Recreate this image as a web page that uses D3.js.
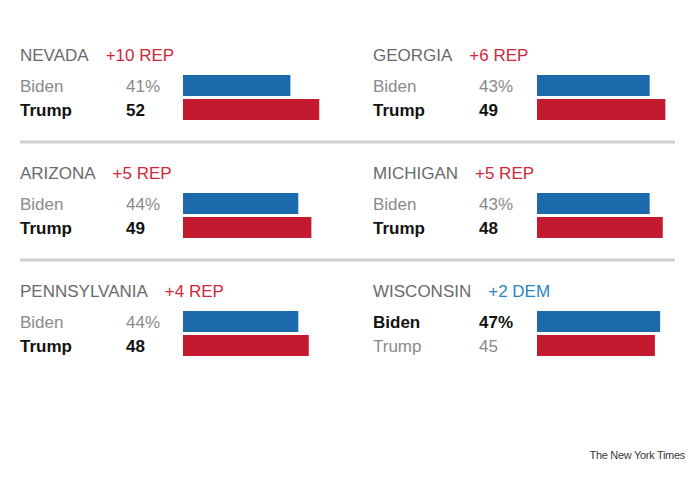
<!DOCTYPE html>
<html>
<head>
<meta charset="utf-8">
<script src="https://cdn.jsdelivr.net/npm/d3@7"></script>
<style>
  html, body { margin: 0; padding: 0; background: #ffffff; }
  svg { display: block; font-family: "Liberation Sans", Arial, sans-serif; }
</style>
</head>
<body>
<svg id="chart" width="700" height="490"></svg>
<script>
const states = ["NEVADA", "GEORGIA", "ARIZONA", "MICHIGAN", "PENNSYLVANIA", "WISCONSIN"];
const margins = ["+10 REP", "+6 REP", "+5 REP", "+5 REP", "+4 REP", "+2 DEM"];
const marginParty = ["REP", "REP", "REP", "REP", "REP", "DEM"];
const candidates = ["Biden", "Trump"];
const bidenValues = [41, 43, 44, 43, 44, 47];
const trumpValues = [52, 49, 49, 48, 48, 45];
const credit = "The New York Times";

const svg = d3.select("#chart");
const colors = { Biden: "#1a6aac", Trump: "#c31a30" };
const textColors = { REP: "#d0283a", DEM: "#2a87c2" };

const colX = d3.scalePoint().domain([0, 1]).range([20, 373]);
const rowY = d3.scalePoint().domain([0, 1, 2]).range([0, 236]);
const x = d3.scaleLinear().domain([0, 100]).range([0, 262]);
const y = d3.scaleBand().domain(candidates).range([75, 120]).paddingInner(0.125);

const numOffset = 106;
const barOffset = 163;

// dividers
[0, 1].forEach(r => {
  svg.append("line")
    .attr("x1", 20).attr("x2", 675)
    .attr("y1", rowY(r) + 142).attr("y2", rowY(r) + 142)
    .attr("stroke", "#cfcfcf").attr("stroke-width", 3);
});

states.forEach((st, i) => {
  const c = i % 2, r = Math.floor(i / 2);
  const g = svg.append("g").attr("transform", `translate(${colX(c)},${rowY(r)})`);
  const title = g.append("text")
    .attr("x", 0).attr("y", 61)
    .attr("font-size", 17).attr("fill", "#6a6a6a")
    .text(st);
  const w = title.node().getComputedTextLength();
  g.append("text")
    .attr("x", w + 17).attr("y", 61)
    .attr("font-size", 17).attr("fill", textColors[marginParty[i]])
    .text(margins[i]);

  const vals = { Biden: bidenValues[i], Trump: trumpValues[i] };
  const winner = vals.Biden > vals.Trump ? "Biden" : "Trump";
  candidates.forEach(cand => {
    const win = cand === winner;
    const baseY = y(cand) + y.bandwidth() / 2 + 6.5;
    g.append("text")
      .attr("x", 0).attr("y", baseY)
      .attr("font-size", 17)
      .attr("font-weight", win ? "bold" : "normal")
      .attr("fill", win ? "#121212" : "#8a8a8a")
      .text(cand);
    g.append("text")
      .attr("x", numOffset).attr("y", baseY)
      .attr("font-size", 17)
      .attr("font-weight", win ? "bold" : "normal")
      .attr("fill", win ? "#121212" : "#8a8a8a")
      .text(cand === "Biden" ? vals[cand] + "%" : vals[cand]);
    g.append("rect")
      .attr("x", barOffset + (c === 1 ? 1 : 0))
      .attr("y", y(cand))
      .attr("width", x(vals[cand]))
      .attr("height", y.bandwidth())
      .attr("fill", colors[cand]);
  });
});

svg.append("text")
  .attr("x", 685).attr("y", 459)
  .attr("text-anchor", "end")
  .attr("font-size", 11)
  .attr("letter-spacing", -0.3)
  .attr("fill", "#3a3a3a")
  .text(credit);
</script>
</body>
</html>
